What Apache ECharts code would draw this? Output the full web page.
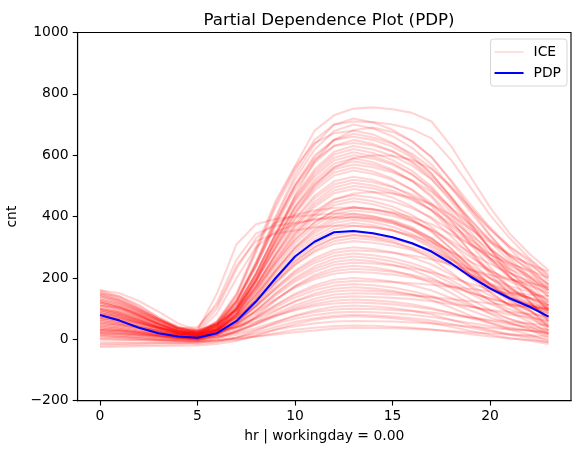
<!DOCTYPE html>
<html>
<head>
<meta charset="utf-8">
<script src="https://cdn.jsdelivr.net/npm/echarts@6/dist/echarts.min.js"></script>
<style>
  html, body { margin: 0; padding: 0; background: #fff; }
  #chart { width: 583px; height: 455px; }
</style>
</head>
<body>
<div id="chart"></div>
<script>
const hours = [0, 1, 2, 3, 4, 5, 6, 7, 8, 9, 10, 11, 12, 13, 14, 15, 16, 17, 18, 19, 20, 21, 22, 23]
const xTicks = [0, 5, 10, 15, 20]

// average curve (blue)
const pdp = [79, 61, 38, 20, 9, 5, 20, 60, 123, 199, 270, 318, 349, 353, 346, 333, 313, 286, 248, 204, 166, 134, 107, 74]

// individual conditional expectation curves, one row per instance
const ice = [
  [150, 140, 112, 70, 35, 22, 60, 150, 300, 450, 565, 680, 730, 752, 756, 750, 738, 710, 630, 530, 430, 345, 280, 225],
  [60, 52, 40, 27, 15, 10, 45, 124, 251, 400, 535, 635, 699, 720, 707, 683, 646, 593, 519, 439, 365, 301, 254, 190],
  [120, 104, 78, 50, 25, 15, 49, 125, 248, 392, 522, 618, 679, 700, 687, 662, 624, 570, 495, 414, 338, 273, 225, 160],
  [20, 18, 14, 10, 6, 5, 25, 80, 190, 330, 470, 580, 650, 682, 690, 676, 645, 595, 515, 425, 340, 265, 205, 160],
  [90, 79, 61, 42, 25, 18, 51, 122, 240, 377, 500, 592, 650, 670, 658, 637, 605, 558, 493, 424, 358, 303, 261, 205],
  [140, 123, 94, 63, 37, 25, 56, 125, 238, 369, 488, 575, 631, 650, 637, 613, 576, 523, 449, 369, 295, 231, 184, 120],
  [40, 34, 24, 13, 4, 0, 32, 101, 214, 347, 466, 554, 611, 630, 619, 598, 566, 521, 457, 389, 325, 271, 230, 175],
  [105, 91, 68, 43, 21, 12, 42, 108, 215, 341, 455, 538, 592, 610, 597, 574, 538, 486, 414, 337, 265, 203, 157, 95],
  [75, 67, 53, 38, 26, 20, 49, 113, 217, 339, 449, 530, 583, 600, 589, 569, 537, 492, 429, 362, 299, 245, 204, 150],
  [10, 8, 4, 0, -4, -5, 25, 90, 197, 322, 435, 519, 572, 590, 577, 553, 516, 463, 389, 309, 235, 171, 124, 60],
  [155, 135, 102, 66, 35, 22, 49, 110, 208, 323, 428, 504, 554, 570, 561, 544, 518, 481, 429, 374, 322, 278, 244, 200],
  [65, 56, 42, 27, 14, 8, 35, 95, 192, 306, 409, 485, 534, 550, 539, 519, 488, 444, 383, 317, 255, 202, 163, 110],
  [125, 109, 81, 51, 26, 15, 41, 97, 190, 298, 396, 468, 515, 530, 519, 498, 466, 420, 355, 286, 222, 167, 125, 70],
  [30, 26, 19, 11, 5, 2, 27, 83, 175, 281, 378, 449, 495, 510, 501, 484, 458, 421, 369, 314, 262, 218, 184, 140],
  [95, 82, 61, 38, 19, 10, 34, 87, 173, 274, 365, 432, 476, 490, 480, 462, 433, 393, 336, 275, 219, 170, 134, 85],
  [145, 127, 98, 67, 40, 28, 50, 99, 178, 271, 355, 417, 457, 470, 462, 449, 427, 397, 354, 308, 266, 229, 202, 165],
  [50, 43, 32, 20, 10, 5, 27, 76, 156, 250, 334, 397, 437, 450, 440, 422, 393, 353, 296, 235, 179, 130, 94, 45],
  [110, 96, 73, 48, 27, 18, 39, 84, 158, 245, 323, 381, 418, 430, 422, 409, 387, 357, 314, 268, 226, 189, 162, 125],
  [0, -1, -3, -5, -7, -8, 13, 59, 134, 222, 301, 360, 397, 410, 401, 383, 357, 319, 266, 209, 155, 110, 76, 30],
  [80, 70, 53, 34, 19, 12, 31, 74, 144, 225, 299, 353, 388, 400, 393, 379, 358, 328, 286, 241, 199, 163, 136, 100],
  [130, 114, 86, 56, 31, 20, 39, 79, 146, 224, 294, 346, 379, 390, 382, 367, 343, 310, 263, 212, 166, 125, 95, 55],
  [45, 39, 29, 19, 10, 6, 24, 64, 130, 206, 275, 326, 359, 370, 365, 355, 339, 317, 286, 253, 223, 196, 176, 150],
  [100, 87, 66, 42, 23, 14, 31, 68, 128, 199, 263, 310, 340, 350, 343, 331, 312, 285, 247, 207, 169, 137, 112, 80],
  [20, 17, 12, 7, 2, 0, 17, 54, 116, 187, 252, 299, 330, 340, 332, 318, 295, 263, 218, 170, 126, 87, 58, 20],
  [150, 131, 100, 66, 38, 25, 40, 72, 125, 187, 243, 285, 311, 320, 315, 305, 291, 270, 240, 209, 179, 154, 135, 110],
  [70, 61, 45, 28, 14, 8, 23, 55, 107, 169, 224, 265, 291, 300, 294, 284, 267, 244, 211, 175, 143, 114, 93, 65],
  [115, 100, 75, 48, 25, 15, 29, 59, 109, 166, 219, 257, 282, 290, 287, 282, 273, 261, 244, 226, 210, 195, 184, 170],
  [35, 30, 22, 14, 6, 3, 16, 46, 94, 150, 201, 238, 262, 270, 264, 254, 238, 215, 183, 148, 116, 88, 68, 40],
  [85, 74, 55, 35, 18, 10, 22, 48, 92, 142, 188, 221, 243, 250, 247, 241, 232, 219, 201, 181, 163, 147, 136, 120],
  [-10, -10, -11, -11, -12, -12, 1, 28, 74, 127, 174, 210, 232, 240, 234, 224, 207, 184, 151, 115, 83, 54, 33, 5],
  [135, 118, 90, 59, 33, 22, 32, 54, 89, 131, 169, 196, 214, 220, 217, 211, 202, 189, 171, 151, 133, 117, 106, 90],
  [55, 47, 35, 21, 9, 4, 14, 35, 71, 112, 149, 176, 194, 200, 196, 188, 176, 159, 135, 110, 86, 66, 50, 30],
  [95, 83, 62, 39, 20, 12, 21, 40, 73, 110, 144, 169, 185, 190, 189, 187, 183, 178, 171, 164, 157, 151, 146, 140],
  [15, 12, 8, 3, -1, -3, 6, 25, 56, 92, 125, 149, 165, 170, 166, 158, 146, 128, 104, 77, 53, 32, 16, -5],
  [120, 105, 79, 52, 28, 18, 25, 41, 66, 96, 123, 143, 156, 160, 158, 153, 146, 136, 122, 107, 93, 81, 72, 60],
  [40, 34, 25, 15, 6, 2, 9, 24, 49, 78, 104, 123, 136, 140, 138, 135, 131, 124, 115, 106, 96, 89, 83, 75],
  [75, 65, 48, 30, 15, 8, 14, 28, 49, 75, 98, 115, 126, 130, 127, 122, 114, 102, 86, 69, 53, 39, 29, 15],
  [-20, -19, -18, -17, -16, -15, -9, 5, 28, 54, 78, 95, 106, 110, 107, 102, 93, 81, 64, 46, 30, 15, 4, -10],
  [60, 52, 38, 23, 11, 5, 10, 20, 37, 57, 75, 89, 97, 100, 99, 96, 92, 87, 79, 71, 63, 57, 52, 45],
  [25, 21, 15, 8, 3, 0, 5, 14, 31, 50, 67, 79, 87, 90, 88, 85, 80, 73, 63, 53, 43, 35, 28, 20],
  [-25, -24, -23, -22, -21, -20, -15, -5, 12, 32, 50, 64, 72, 75, 73, 69, 62, 53, 41, 27, 15, 4, -4, -15],
  [5, 4, 1, -2, -4, -5, -2, 5, 17, 31, 43, 52, 58, 60, 59, 58, 55, 52, 47, 41, 37, 32, 29, 25],
  [-15, -14, -13, -12, -11, -10, -7, -1, 9, 20, 31, 38, 43, 45, 44, 41, 38, 32, 25, 17, 9, 3, -2, -8],
  [0, -1, -2, -3, -4, -5, -3, 2, 9, 16, 23, 29, 35, 38, 37, 36, 34, 31, 27, 23, 19, 16, 13, 10],
  [100, 90, 72, 50, 30, 20, 55, 140, 285, 430, 550, 650, 700, 710, 708, 700, 685, 655, 585, 495, 405, 330, 265, 210],
  [130, 115, 90, 62, 36, 25, 45, 100, 190, 300, 410, 500, 560, 590, 600, 598, 585, 555, 500, 430, 360, 295, 235, 180],
  [160, 150, 125, 90, 52, 30, 50, 95, 170, 260, 345, 410, 455, 475, 480, 475, 462, 440, 405, 360, 315, 275, 245, 220],
  [85, 75, 58, 38, 22, 15, 45, 120, 240, 380, 505, 600, 650, 660, 650, 628, 592, 540, 465, 380, 295, 205, 125, 60],
  [110, 98, 76, 50, 29, 20, 55, 130, 250, 385, 500, 585, 630, 640, 632, 612, 580, 532, 465, 390, 318, 255, 195, 140],
  [30, 27, 20, 13, 7, 5, 33, 97, 200, 320, 430, 510, 562, 580, 569, 549, 516, 469, 402, 330, 263, 205, 160, 90],
  [140, 122, 92, 60, 32, 20, 45, 100, 190, 295, 390, 460, 505, 520, 512, 496, 472, 438, 391, 340, 292, 251, 220, 180],
  [85, 74, 55, 35, 18, 10, 33, 82, 163, 258, 343, 406, 446, 460, 450, 433, 405, 366, 312, 253, 199, 152, 117, 70],
  [55, 48, 36, 24, 13, 8, 29, 74, 148, 235, 313, 371, 408, 420, 414, 402, 384, 358, 321, 282, 246, 215, 191, 160],
  [100, 87, 66, 43, 24, 15, 33, 73, 139, 216, 285, 336, 369, 380, 372, 356, 332, 298, 251, 200, 152, 111, 81, 40],
  [15, 12, 8, 3, 0, -2, 15, 51, 111, 181, 244, 290, 320, 330, 325, 315, 299, 277, 246, 213, 183, 156, 136, 110],
  [125, 109, 82, 53, 29, 18, 31, 60, 107, 162, 212, 249, 272, 280, 274, 264, 248, 225, 193, 158, 126, 98, 78, 50],
  [65, 56, 41, 25, 12, 6, 17, 42, 82, 129, 172, 203, 223, 230, 226, 220, 210, 195, 175, 153, 133, 115, 102, 85],
  [90, 78, 59, 38, 20, 12, 20, 39, 69, 104, 136, 160, 175, 180, 176, 169, 157, 141, 118, 94, 71, 52, 37, 20],
  [35, 30, 21, 12, 4, 0, 8, 24, 51, 83, 111, 132, 146, 150, 149, 146, 143, 138, 131, 124, 117, 111, 106, 100],
  [145, 127, 97, 65, 37, 25, 30, 40, 57, 77, 95, 109, 117, 120, 118, 114, 107, 98, 86, 72, 60, 49, 41, 30],
  [10, 7, 3, -2, -6, -8, -4, 6, 22, 40, 57, 69, 77, 80, 78, 74, 69, 61, 50, 38, 26, 17, 10, 0],
  [80, 70, 54, 36, 20, 14, 41, 101, 200, 314, 418, 494, 544, 560, 547, 524, 487, 435, 362, 284, 212, 150, 100, 40],
  [160, 140, 107, 72, 41, 28, 48, 92, 165, 249, 326, 382, 418, 430, 424, 414, 398, 375, 343, 308, 276, 247, 225, 200],
  [45, 39, 29, 18, 8, 4, 35, 103, 213, 343, 460, 546, 602, 620, 607, 584, 549, 498, 426, 350, 278, 217, 171, 110],
  [120, 104, 78, 50, 26, 16, 32, 68, 126, 194, 256, 301, 330, 340, 335, 325, 311, 290, 260, 229, 199, 174, 155, 130],
  [70, 61, 46, 30, 16, 10, 22, 50, 95, 148, 195, 230, 252, 260, 254, 243, 226, 201, 167, 130, 96, 66, 44, 15],
  [25, 22, 16, 10, 4, 2, 27, 82, 171, 276, 371, 440, 485, 500, 492, 477, 454, 421, 375, 325, 279, 239, 210, 170],
  [95, 83, 62, 40, 20, 12, 55, 145, 290, 440, 560, 640, 672, 680, 668, 640, 598, 540, 460, 375, 295, 222, 160, 100],
  // instances that ramp up early in the morning
  [30, 28, 24, 20, 16, 30, 150, 310, 375, 392, 400, 405, 410, 408, 400, 388, 365, 330, 280, 225, 175, 135, 110, 95],
  [70, 65, 52, 38, 25, 35, 120, 260, 345, 370, 380, 390, 395, 395, 390, 378, 355, 320, 272, 220, 172, 135, 112, 100],
  [50, 47, 38, 28, 18, 28, 100, 230, 330, 380, 405, 420, 428, 430, 425, 412, 388, 350, 295, 235, 180, 138, 112, 98],
  [110, 104, 84, 60, 35, 40, 110, 240, 320, 345, 355, 365, 370, 370, 365, 355, 335, 305, 260, 210, 165, 130, 108, 95],
  [20, 19, 16, 13, 12, 22, 85, 200, 300, 350, 375, 392, 400, 400, 395, 385, 362, 328, 280, 228, 180, 142, 118, 105]
]

const font = 'DejaVu Sans'
const lineWidth = 2.08
const iceColor = 'rgba(255,0,0,0.17)'
const minus = v => String(v).replace('-', '\u2212')

function buildSeries () {
  const list = ice.map(row => ({
    name: 'ICE',
    type: 'line',
    data: row.map((v, i) => [hours[i], v]),
    symbol: 'none',
    lineStyle: { color: iceColor, width: lineWidth },
    itemStyle: { color: 'rgba(255,0,0,0.12)' },
    silent: true,
    z: 2
  }))
  list.push({
    name: 'PDP',
    type: 'line',
    data: pdp.map((v, i) => [hours[i], v]),
    symbol: 'none',
    lineStyle: { color: '#0000ff', width: lineWidth },
    itemStyle: { color: '#0000ff' },
    silent: true,
    z: 3
  })
  return list
}

const chart = echarts.init(document.getElementById('chart'))
chart.setOption({
  animation: false,
  backgroundColor: '#fff',
  textStyle: { fontFamily: font },
  title: {
    text: 'Partial Dependence Plot (PDP)',
    left: 324,
    top: 7,
    textAlign: 'center',
    textStyle: { fontFamily: font, fontSize: 16.7, fontWeight: 'normal', color: '#000' }
  },
  legend: {
    data: ['ICE', 'PDP'],
    orient: 'vertical',
    right: 16,
    top: 39,
    icon: 'rect',
    itemWidth: 29,
    itemHeight: 2,
    itemGap: 5,
    padding: [5, 6, 5, 4],
    backgroundColor: '#fff',
    borderColor: '#d6d6d6',
    borderWidth: 1,
    borderRadius: 3,
    textStyle: { fontFamily: font, fontSize: 13.9, color: '#000', padding: [0, 0, 0, 5], lineHeight: 16 }
  },
  grid: {
    left: 77.6,
    right: 12,
    top: 32.5,
    bottom: 54.3,
    show: true,
    borderColor: '#000',
    borderWidth: 1.1,
    containLabel: false,
    outerBoundsMode: 'none'
  },
  xAxis: {
    type: 'value',
    min: -1.15,
    max: 24.15,
    name: 'hr | workingday = 0.00',
    nameLocation: 'middle',
    nameGap: 29,
    nameTextStyle: { fontFamily: font, fontSize: 13.9, color: '#000' },
    axisLine: { show: true, onZero: false, lineStyle: { color: '#000', width: 1.1 } },
    axisTick: { show: true, length: 4.9, customValues: xTicks, lineStyle: { color: '#000', width: 1.1 } },
    axisLabel: { customValues: xTicks, margin: 9, fontFamily: font, fontSize: 13.9, color: '#000' },
    splitLine: { show: false }
  },
  yAxis: {
    type: 'value',
    min: -200,
    max: 1000,
    interval: 200,
    name: 'cnt',
    nameLocation: 'middle',
    nameRotate: 90,
    nameGap: 47,
    nameTextStyle: { fontFamily: font, fontSize: 13.9, color: '#000' },
    axisLine: { show: true, onZero: false, lineStyle: { color: '#000', width: 1.1 } },
    axisTick: { show: true, length: 4.9, lineStyle: { color: '#000', width: 1.1 } },
    axisLabel: { margin: 9, fontFamily: font, fontSize: 13.9, color: '#000', formatter: minus },
    splitLine: { show: false }
  },
  series: buildSeries()
})
</script>
</body>
</html>
